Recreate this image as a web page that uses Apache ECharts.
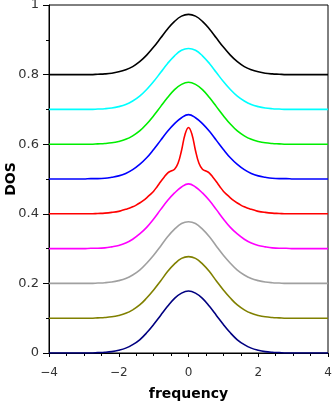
<!DOCTYPE html>
<html><head><meta charset="utf-8">
<script src="https://cdn.jsdelivr.net/npm/echarts@6/dist/echarts.min.js"></script>
<style>html,body{margin:0;padding:0;background:#fff}#c{width:332px;height:402px}</style>
</head><body><div id="c"></div>
<script>
// shared frequency grid (step 0.2)
var freq = [-4,-3.8,-3.6,-3.4,-3.2,-3,-2.8,-2.6,-2.4,-2.2,-2,-1.8,-1.6,-1.4,-1.2,-1,-0.8,-0.6,-0.4,-0.2,0,
            0.2,0.4,0.6,0.8,1,1.2,1.4,1.6,1.8,2,2.2,2.4,2.6,2.8,3,3.2,3.4,3.6,3.8,4];
var navy = [0,0,0,0,0,0,0,0.001,0.002,0.004,0.008,0.014,0.024,0.038,0.058,0.082,0.108,0.134,0.157,0.172,0.178,
            0.172,0.157,0.134,0.108,0.082,0.058,0.038,0.024,0.014,0.008,0.004,0.002,0.001,0,0,0,0,0,0,0];
var olive = [0.1,0.1,0.1,0.1,0.1,0.1,0.1,0.101,0.102,0.104,0.108,0.114,0.124,0.138,0.158,0.181,0.207,0.234,0.256,0.272,0.277,
             0.272,0.256,0.234,0.207,0.181,0.158,0.138,0.124,0.114,0.108,0.104,0.102,0.101,0.1,0.1,0.1,0.1,0.1,0.1,0.1];
var gray = [0.2,0.2,0.2,0.2,0.2,0.2,0.2,0.201,0.202,0.204,0.208,0.214,0.224,0.238,0.258,0.281,0.307,0.334,0.356,0.372,0.377,
            0.372,0.356,0.334,0.307,0.281,0.258,0.238,0.224,0.214,0.208,0.204,0.202,0.201,0.2,0.2,0.2,0.2,0.2,0.2,0.2];
var magenta = [0.3,0.3,0.3,0.3,0.3,0.3,0.301,0.301,0.302,0.305,0.309,0.316,0.327,0.342,0.361,0.385,0.412,0.438,0.46,0.477,0.486,
               0.477,0.46,0.438,0.412,0.385,0.361,0.342,0.327,0.316,0.309,0.305,0.302,0.301,0.301,0.3,0.3,0.3,0.3,0.3,0.3];
var blue = [0.5,0.5,0.5,0.5,0.5,0.5,0.501,0.501,0.502,0.505,0.509,0.516,0.527,0.542,0.561,0.585,0.611,0.637,0.659,0.676,0.685,
            0.676,0.659,0.637,0.611,0.585,0.561,0.542,0.527,0.516,0.509,0.505,0.502,0.501,0.501,0.5,0.5,0.5,0.5,0.5,0.5];
var green = [0.6,0.6,0.6,0.6,0.6,0.6,0.6,0.601,0.602,0.604,0.608,0.614,0.624,0.638,0.658,0.682,0.708,0.734,0.757,0.772,0.778,
             0.772,0.757,0.734,0.708,0.682,0.658,0.638,0.624,0.614,0.608,0.604,0.602,0.601,0.6,0.6,0.6,0.6,0.6,0.6,0.6];
var cyan = [0.7,0.7,0.7,0.7,0.7,0.7,0.7,0.701,0.702,0.704,0.708,0.714,0.724,0.738,0.757,0.78,0.806,0.832,0.854,0.87,0.875,
            0.87,0.854,0.832,0.806,0.78,0.757,0.738,0.724,0.714,0.708,0.704,0.702,0.701,0.7,0.7,0.7,0.7,0.7,0.7,0.7];
var black = [0.8,0.8,0.8,0.8,0.8,0.8,0.8,0.801,0.802,0.804,0.808,0.814,0.823,0.837,0.856,0.879,0.905,0.931,0.953,0.968,0.973,
             0.968,0.953,0.931,0.905,0.879,0.856,0.837,0.823,0.814,0.808,0.804,0.802,0.801,0.8,0.8,0.8,0.8,0.8,0.8,0.8];
// red curve has a narrow central peak, so it has its own finer grid in the middle
var freqRed = [-4,-3.8,-3.6,-3.4,-3.2,-3,-2.8,-2.6,-2.4,-2.2,-2,
               -1.9,-1.8,-1.7,-1.6,-1.5,-1.4,-1.3,-1.2,-1.1,-1,-0.9,-0.8,-0.7,-0.6,-0.5,-0.4,-0.3,-0.2,-0.1,0,
               0.1,0.2,0.3,0.4,0.5,0.6,0.7,0.8,0.9,1,1.1,1.2,1.3,1.4,1.5,1.6,1.7,1.8,1.9,
               2,2.2,2.4,2.6,2.8,3,3.2,3.4,3.6,3.8,4];
var red = [0.4,0.4,0.4,0.4,0.4,0.4,0.4,0.401,0.402,0.404,0.407,
           0.41,0.413,0.416,0.42,0.425,0.431,0.438,0.446,0.455,0.465,0.478,0.492,0.505,0.517,0.523,0.528,0.545,0.582,0.628,0.648,
           0.628,0.582,0.545,0.528,0.523,0.517,0.505,0.492,0.478,0.465,0.455,0.446,0.438,0.431,0.425,0.42,0.416,0.413,0.41,
           0.407,0.404,0.402,0.401,0.4,0.4,0.4,0.4,0.4,0.4,0.4];

var yTicks = [0, 0.2, 0.4, 0.6, 0.8, 1];
var xTicks = [-4, -2, 0, 2, 4];

function pairs(xs, ys){ return xs.map(function(x,i){ return [x, ys[i]]; }); }
var seriesDefs = [
  {d: pairs(freq, navy), c: '#000080'},
  {d: pairs(freq, olive), c: '#808000'},
  {d: pairs(freq, gray), c: '#a0a0a0'},
  {d: pairs(freq, magenta), c: '#ff00ff'},
  {d: pairs(freqRed, red), c: '#ff0000'},
  {d: pairs(freq, blue), c: '#0000ff'},
  {d: pairs(freq, green), c: '#00ee00'},
  {d: pairs(freq, cyan), c: '#00ffff'},
  {d: pairs(freq, black), c: '#000000'}
];
var FONT = 'DejaVu Sans';
var chart = echarts.init(document.getElementById('c'), null, {renderer:'canvas'});
chart.setOption({
  animation: false,
  grid: {left: 49, right: 4, top: 5, bottom: 49, show: true, borderColor: '#000', borderWidth: 1,
         backgroundColor: 'transparent', containLabel: false, outerBoundsMode: 'none'},
  xAxis: {
    type: 'value', min: xTicks[0], max: xTicks[xTicks.length-1], interval: 2,
    name: 'frequency', nameLocation: 'middle', nameGap: 34, nameMoveOverlap: false,
    nameTextStyle: {fontFamily: FONT, fontWeight: 'bold', fontSize: 14, color: '#000'},
    axisLine: {show: true, onZero: false, lineStyle: {color: '#000', width: 1}},
    axisTick: {show: true, length: 4, lineStyle: {color: '#000'}},
    minorTick: {show: true, splitNumber: 4, length: 3, lineStyle: {color: '#000'}},
    splitLine: {show: false},
    axisLabel: {fontFamily: FONT, fontSize: 12, color: '#333', margin: 14,
      formatter: function(v){ return String(v).replace('-', '\u2212'); }}
  },
  yAxis: {
    type: 'value', min: yTicks[0], max: yTicks[yTicks.length-1], interval: 0.2,
    name: 'DOS', nameLocation: 'middle', nameGap: 31, nameMoveOverlap: false,
    nameTextStyle: {fontFamily: FONT, fontWeight: 'bold', fontSize: 14, color: '#000'},
    axisLine: {show: true, onZero: false, lineStyle: {color: '#000', width: 1}},
    axisTick: {show: true, length: 6, lineStyle: {color: '#000'}},
    minorTick: {show: true, splitNumber: 2, length: 3, lineStyle: {color: '#000'}},
    splitLine: {show: false},
    axisLabel: {fontFamily: FONT, fontSize: 13, color: '#333', margin: 10,
      formatter: function(v){ return String(Math.round(v*10)/10); }}
  },
  series: seriesDefs.map(function(s){
    return {type: 'line', data: s.d, showSymbol: false, smooth: 0.4,
      lineStyle: {color: s.c, width: 1.6}, itemStyle: {color: s.c}};
  })
});
</script></body></html>
